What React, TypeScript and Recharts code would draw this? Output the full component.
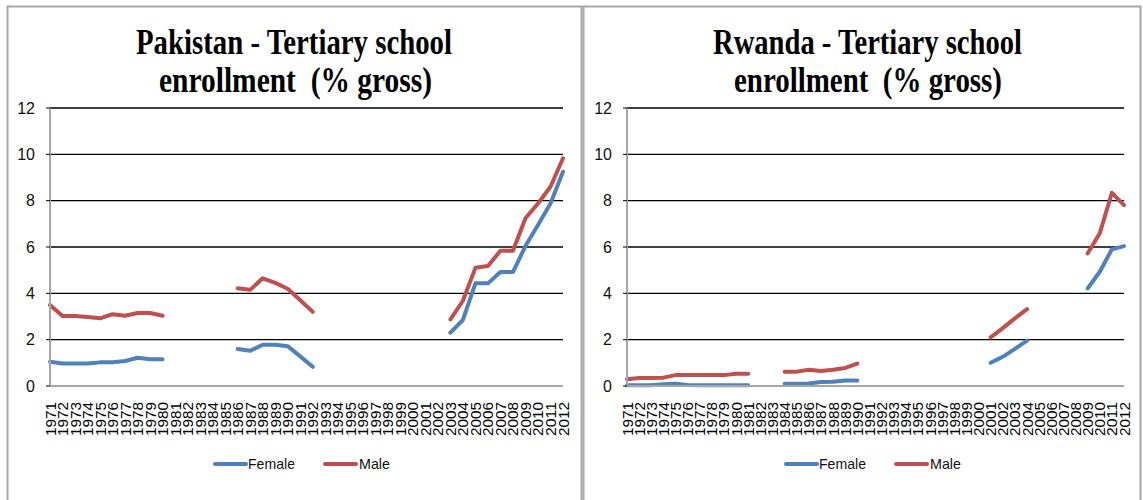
import { LineChart, Line, XAxis, YAxis, CartesianGrid } from "recharts";

const BLUE = "#4F81BD";
const RED = "#C0504D";
const AXIS_GRAY = "#A6A6A6";
const FONT = "'Liberation Sans', Arial, sans-serif";

const YEARS = [
  "1971", "1972", "1973", "1974", "1975", "1976", "1977", "1978", "1979", "1980",
  "1981", "1982", "1983", "1984", "1985", "1986", "1987", "1988", "1989", "1990",
  "1991", "1992", "1993", "1994", "1995", "1996", "1997", "1998", "1999", "2000",
  "2001", "2002", "2003", "2004", "2005", "2006", "2007", "2008", "2009", "2010",
  "2011", "2012",
];
const Y_TICKS = [0, 2, 4, 6, 8, 10, 12];

// Pakistan
const PK_FEMALE = [
  1.05, 0.97, 0.97, 0.97, 1.02, 1.03, 1.08, 1.22, 1.15, 1.15,
  null, null, null, null, null,
  1.6, 1.52, 1.78, 1.78, 1.72, 1.28, 0.83,
  null, null, null, null, null, null, null, null, null, null,
  2.3, 2.85, 4.43, 4.43, 4.92, 4.92, 6.04, 6.95, 7.88, 9.25,
];
const PK_MALE = [
  3.5, 3.02, 3.02, 2.98, 2.92, 3.1, 3.03, 3.15, 3.15, 3.03,
  null, null, null, null, null,
  4.22, 4.15, 4.65, 4.45, 4.2, 3.7, 3.2,
  null, null, null, null, null, null, null, null, null, null,
  2.88, 3.68, 5.1, 5.18, 5.84, 5.84, 7.24, 7.88, 8.6, 9.83,
];

// Rwanda
const RW_FEMALE = [
  0.03, 0.03, 0.03, 0.08, 0.1, 0.04, 0.03, 0.03, 0.03, 0.03, 0.03,
  null, null,
  0.1, 0.1, 0.11, 0.17, 0.18, 0.24, 0.24,
  null, null, null, null, null, null, null, null, null, null,
  1.0, 1.26, 1.6, 1.96,
  null, null, null, null,
  4.21, 4.93, 5.9, 6.04,
];
const RW_MALE = [
  0.29, 0.35, 0.35, 0.36, 0.47, 0.47, 0.47, 0.47, 0.47, 0.53, 0.53,
  null, null,
  0.62, 0.62, 0.7, 0.65, 0.7, 0.78, 0.97,
  null, null, null, null, null, null, null, null, null, null,
  2.1, 2.5, 2.92, 3.32,
  null, null, null, null,
  5.72, 6.59, 8.34, 7.81,
];

function build(female: (number | null)[], male: (number | null)[]) {
  return YEARS.map((year, i) => ({ year, female: female[i], male: male[i] }));
}

function YearTick({ x, y, payload }: any) {
  return (
    <text
      transform={`translate(${x},${y + 16}) rotate(-90)`}
      textAnchor="end"
      dominantBaseline="central"
      fontFamily={FONT}
      fontSize={15}
      fill="#000"
      textLength={34}
      lengthAdjust="spacingAndGlyphs"
    >
      {payload.value}
    </text>
  );
}

// Excel-style legend, drawn below each plot
function LegendBox({ left }: { left: number }) {
  return (
    <svg width={200} height={22} style={{ position: "absolute", left, top: 453 }}>
      <line x1={2} y1={11} x2={33} y2={11} stroke={BLUE} strokeWidth={4} strokeLinecap="round" />
      <text x={35} y={16} fontFamily={FONT} fontSize={15} fill="#111" textLength={47} lengthAdjust="spacingAndGlyphs">Female</text>
      <line x1={112} y1={11} x2={143} y2={11} stroke={RED} strokeWidth={4} strokeLinecap="round" />
      <text x={146} y={16} fontFamily={FONT} fontSize={15} fill="#111" textLength={31} lengthAdjust="spacingAndGlyphs">Male</text>
    </svg>
  );
}

type PanelProps = {
  data: ReturnType<typeof build>;
  left: number;
  width: number;
  yAxisWidth: number;
  marginRight: number;
  legendLeft: number;
};

function Panel({ data, left, width, yAxisWidth, marginRight, legendLeft }: PanelProps) {
  return (
    <div style={{ position: "absolute", left, top: 0, width, height: 500 }}>
      <LineChart width={width} height={500} data={data} margin={{ top: 108, right: marginRight, bottom: 54, left: 0 }}>
        <CartesianGrid horizontal vertical={false} stroke="#000" strokeWidth={1.4} />
        <XAxis
          dataKey="year"
          interval={0}
          height={60}
          tick={<YearTick />}
          tickLine={false}
          tickSize={0}
          tickMargin={0}
          axisLine={{ stroke: AXIS_GRAY, strokeWidth: 2 }}
        />
        <YAxis
          domain={[0, 12]}
          ticks={Y_TICKS}
          width={yAxisWidth}
          tickSize={4}
          tickMargin={11}
          tickLine={{ stroke: "#000" }}
          axisLine={{ stroke: AXIS_GRAY, strokeWidth: 2 }}
          tick={{ fontFamily: FONT, fontSize: 16, fill: "#111" }}
        />
        <Line type="linear" dataKey="female" name="Female" stroke={BLUE} strokeWidth={4} strokeLinecap="round" strokeLinejoin="round" dot={false} activeDot={false} connectNulls={false} isAnimationActive={false} />
        <Line type="linear" dataKey="male" name="Male" stroke={RED} strokeWidth={4} strokeLinecap="round" strokeLinejoin="round" dot={false} activeDot={false} connectNulls={false} isAnimationActive={false} />
      </LineChart>
      <LegendBox left={legendLeft} />
    </div>
  );
}

const TITLE_FONT = "'Liberation Serif', 'Times New Roman', serif";

export default function App() {
  const pk = build(PK_FEMALE, PK_MALE);
  const rw = build(RW_FEMALE, RW_MALE);
  return (
    <div style={{ position: "absolute", left: 0, top: 0, width: 1143, height: 500, background: "#fff", overflow: "hidden" }}>
      <Panel data={pk} left={0} width={580} yAxisWidth={50} marginRight={17} legendLeft={213} />
      <Panel data={rw} left={580} width={563} yAxisWidth={47} marginRight={19} legendLeft={204} />
      <svg width={1143} height={500} style={{ position: "absolute", left: 0, top: 0, pointerEvents: "none" }}>
        <rect x={7.5} y={6.5} width={574} height={510} fill="none" stroke={AXIS_GRAY} strokeWidth={2} />
        <rect x={583.5} y={6.5} width={557} height={510} fill="none" stroke={AXIS_GRAY} strokeWidth={2} />
        <g fontFamily={TITLE_FONT} fontWeight="bold" fontSize={36} fill="#000">
          <text x={136} y={54} textLength={316} lengthAdjust="spacingAndGlyphs">Pakistan - Tertiary school</text>
          <text x={159} y={92} textLength={273} lengthAdjust="spacingAndGlyphs">{"enrollment\u00a0 (% gross)"}</text>
          <text x={713} y={54} textLength={309} lengthAdjust="spacingAndGlyphs">Rwanda - Tertiary school</text>
          <text x={734} y={92} textLength={268} lengthAdjust="spacingAndGlyphs">{"enrollment\u00a0 (% gross)"}</text>
        </g>
      </svg>
    </div>
  );
}
